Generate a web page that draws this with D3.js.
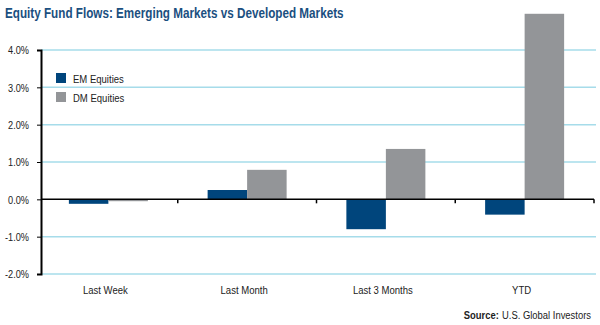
<!DOCTYPE html>
<html>
<head>
<meta charset="utf-8">
<script src="https://cdn.jsdelivr.net/npm/d3@7"></script>
<style>
  body { margin: 0; background: #fff; }
  text { font-family: "Liberation Sans", Arial, sans-serif; }
</style>
</head>
<body>
<div class="graph"></div>
<script>
const categories = ["Last Week", "Last Month", "Last 3 Months", "YTD"];
const seriesNames = ["EM Equities", "DM Equities"];
const emValues = [-0.12, 0.25, -0.80, -0.41];
const dmValues = [-0.05, 0.79, 1.35, 4.97];
const yTicks = [-2, -1, 0, 1, 2, 3, 4];
const colors = ["#00457c", "#939598"];

const width = 600, height = 325;
const margin = {top: 50, right: 6, bottom: 51, left: 39};

// squeeze text horizontally (around its x anchor) to mimic the condensed face
function condense(sel, k) {
  sel.each(function() {
    const x0 = +(this.getAttribute("x") || 0);
    d3.select(this).attr("transform", "translate(" + (x0 * (1 - k)) + ",0) scale(" + k + ",1)");
  });
}

const svg = d3.select(".graph").append("svg")
  .attr("width", width)
  .attr("height", height);

const x = d3.scaleBand().domain(categories).range([margin.left, width - margin.right]);
const x1 = d3.scaleBand().domain(seriesNames).range([x.bandwidth() / 2 - 39.5, x.bandwidth() / 2 + 39.5]);
const y = d3.scaleLinear().domain([-2, 4]).range([height - margin.bottom, margin.top]);

const data = categories.map((c, i) => ({cat: c, vals: [emValues[i], dmValues[i]]}));

// title
const title = svg.append("text")
  .attr("x", 5).attr("y", 18)
  .attr("font-size", 15).attr("font-weight", "bold")
  .attr("fill", "#1b4f80")
  .text("Equity Fund Flows: Emerging Markets vs Developed Markets");
title.call(condense, 339 / title.node().getComputedTextLength());

// grid
svg.append("g").selectAll("line")
  .data(yTicks.filter(d => d !== 0))
  .enter().append("line")
    .attr("x1", margin.left + 2).attr("x2", width - 4)
    .attr("y1", d => y(d)).attr("y2", d => y(d))
    .attr("stroke", "#a6dcea").attr("stroke-width", 1.5);

// bars
const groups = svg.append("g").selectAll("g")
  .data(data)
  .enter().append("g")
    .attr("transform", d => "translate(" + x(d.cat) + ",0)");

groups.selectAll("rect")
  .data(d => d.vals.map((v, i) => ({key: seriesNames[i], v: v, i: i})))
  .enter().append("rect")
    .attr("x", d => x1(d.key))
    .attr("width", x1.bandwidth())
    .attr("y", d => y(Math.max(0, d.v)))
    .attr("height", d => Math.abs(y(d.v) - y(0)))
    .attr("fill", d => colors[d.i]);

// y axis
const yAxis = d3.axisLeft(y)
  .tickValues(yTicks)
  .tickSize(4)
  .tickFormat(d => d.toFixed(1) + "%");

const gy = svg.append("g")
  .attr("transform", "translate(" + (margin.left + 2) + ",0)")
  .call(yAxis);
gy.select(".domain").attr("stroke", "#000").attr("stroke-width", 2);
gy.selectAll(".tick line").attr("stroke", "#000");
gy.selectAll(".tick text")
  .attr("font-size", 11.5).attr("fill", "#222")
  .attr("font-family", "'Liberation Sans', Arial, sans-serif")
  .attr("x", -12)
  .call(condense, 0.8);

// zero line with band ticks
const gx = svg.append("g")
  .attr("transform", "translate(0," + y(0) + ")");
gx.append("line")
  .attr("x1", margin.left + 2).attr("x2", width - margin.right)
  .attr("stroke", "#000").attr("stroke-width", 1.5);
gx.selectAll(".bt")
  .data(categories)
  .enter().append("line")
    .attr("class", "bt")
    .attr("x1", d => x(d) + x.bandwidth()).attr("x2", d => x(d) + x.bandwidth())
    .attr("y1", 0).attr("y2", 4)
    .attr("stroke", "#000").attr("stroke-width", 1.5);

// category labels
svg.append("g").selectAll("text")
  .data(categories)
  .enter().append("text")
    .attr("x", d => x(d) + x.bandwidth() / 2 - 3)
    .attr("y", 294)
    .attr("text-anchor", "middle")
    .attr("font-size", 11.5).attr("fill", "#222")
    .text(d => d)
    .call(condense, 0.83);

// legend
const legend = svg.append("g").selectAll("g")
  .data(seriesNames)
  .enter().append("g")
    .attr("transform", (d, i) => "translate(56," + (73 + i * 19) + ")");
legend.append("rect")
  .attr("width", 10).attr("height", 10)
  .attr("fill", (d, i) => colors[i]);
legend.append("text")
  .attr("x", 17).attr("y", 9.5)
  .attr("font-size", 11.5).attr("fill", "#222")
  .text(d => d)
  .call(condense, 0.83);

// source
const srcText = svg.append("text")
  .attr("x", 591).attr("y", 319)
  .attr("text-anchor", "end")
  .attr("font-size", 11.5).attr("fill", "#222")
  .text("U.S. Global Investors");
const srcW = srcText.node().getComputedTextLength() * 0.82;
srcText.call(condense, 0.82);
svg.append("text")
  .attr("x", 591 - srcW - 3).attr("y", 319)
  .attr("text-anchor", "end")
  .attr("font-size", 11.5).attr("font-weight", "bold").attr("fill", "#222")
  .text("Source:")
  .call(condense, 0.82);
</script>
</body>
</html>
